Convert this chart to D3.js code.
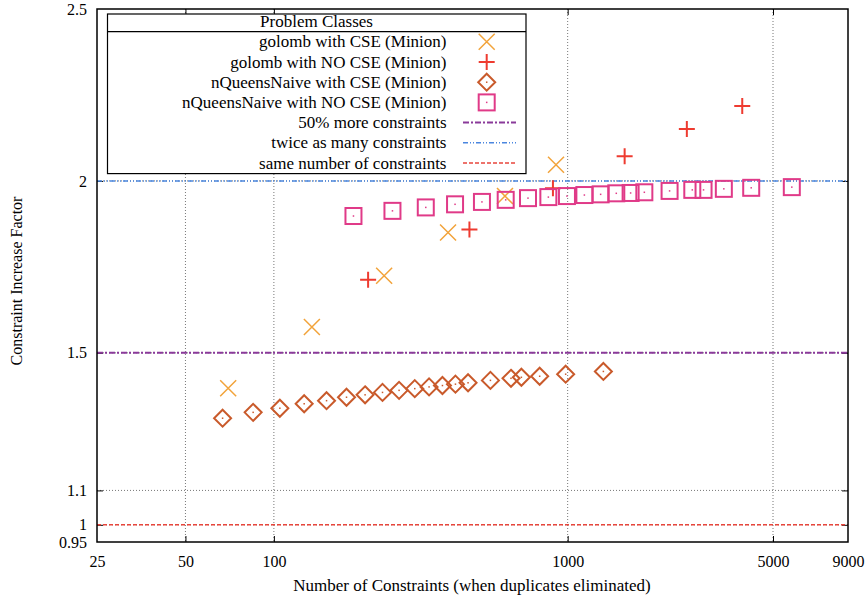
<!DOCTYPE html>
<html><head><meta charset="utf-8">
<script src="https://cdn.jsdelivr.net/npm/d3@7"></script>
<style>body{margin:0;background:#fff}svg{display:block}text{font-family:"Liberation Serif","DejaVu Serif",serif;fill:#000}</style>
</head><body><svg id="c" width="866" height="601"></svg>
<script>
// ---- data ----
const golombCSE_x = [69.9, 134.7, 237.3, 391.6, 611.9, 912.7];
const golombCSE_y = [1.397, 1.575, 1.724, 1.850, 1.956, 2.047];
const golombNoCSE_x = [209.3, 463.1, 891, 1563, 2545, 3929];
const golombNoCSE_y = [1.713, 1.859, 1.979, 2.072, 2.151, 2.218];
const nqCSE_x = [66.9, 85.0, 104.8, 126.8, 151.1, 176.7, 204.4, 234.3, 266.8, 301.7, 337.5, 374.8, 415, 458.1, 545.9, 641.4, 695.8, 803, 984.4, 1323];
const nqCSE_y = [1.310, 1.327, 1.339, 1.352, 1.361, 1.371, 1.378, 1.385, 1.391, 1.396, 1.401, 1.405, 1.409, 1.413, 1.420, 1.426, 1.429, 1.432, 1.438, 1.446];
const nqNoCSE_x = [186.6, 253.3, 328.9, 413.7, 510.8, 615.3, 732.8, 859.6, 994.5, 1140, 1295, 1464, 1638, 1824, 2223, 2656, 2901, 3401, 4215, 5794];
const nqNoCSE_y = [1.898, 1.913, 1.923, 1.932, 1.939, 1.945, 1.950, 1.953, 1.956, 1.959, 1.961, 1.964, 1.965, 1.967, 1.971, 1.974, 1.974, 1.977, 1.980, 1.982];
const refLevels = [1.5, 2, 1];
const xTicks = [25, 50, 100, 1000, 5000, 9000];
const yTicks = [0.95, 1, 1.1, 1.5, 2, 2.5];
const xDomain = [25, 9000];
const yDomain = [0.95, 2.5];
const legendTitle = "Problem Classes";
const seriesNames = ["golomb with CSE (Minion)", "golomb with NO CSE (Minion)", "nQueensNaive with CSE (Minion)", "nQueensNaive with NO CSE (Minion)"];
const lineNames = ["50% more constraints", "twice as many constraints", "same number of constraints"];

// ---- layout ----
const L = 97, R = 848, T = 9, B = 542;
const svg = d3.select("#c");
const x = d3.scaleLog().domain(xDomain).range([L, R]);
const y = d3.scaleLinear().domain(yDomain).range([B, T]);

const colors = {x:"#f2a33a", plus:"#ee3b30", dia:"#c95a2b", sq:"#e03a88"};
const lineStyles = [
  {color:"#8a3a9a", dash:"6,2,2,2", w:2},
  {color:"#4a86df", dash:"5,2,1,2,1,2", w:1.6},
  {color:"#e8463c", dash:"4,2", w:1.5}
];

// grid
const g = svg.append("g");
xTicks.filter(t => t !== 25 && t !== 9000).forEach(t => {
  g.append("line").attr("x1", x(t)).attr("x2", x(t)).attr("y1", T).attr("y2", B)
   .attr("stroke", "#777").attr("stroke-width", 1).attr("stroke-dasharray", "1,2");
});
yTicks.filter(t => t !== 0.95 && t !== 2.5).forEach(t => {
  g.append("line").attr("x1", L).attr("x2", R).attr("y1", y(t)).attr("y2", y(t))
   .attr("stroke", "#777").attr("stroke-width", 1).attr("stroke-dasharray", "1,2");
});

// axes (d3 axes with inward ticks)
const xAxis = d3.axisBottom(x).tickValues(xTicks).tickFormat(d3.format("d")).tickSize(-6).tickPadding(14);
const yAxis = d3.axisLeft(y).tickValues(yTicks).tickFormat(d => String(d)).tickSize(-6).tickPadding(10);
const xa = svg.append("g").attr("transform", `translate(0,${B})`).call(xAxis);
const ya = svg.append("g").attr("transform", `translate(${L},0)`).call(yAxis);
const xt = svg.append("g").attr("transform", `translate(0,${T})`).call(d3.axisTop(x).tickValues(xTicks).tickSize(-6).tickFormat(""));
const yr = svg.append("g").attr("transform", `translate(${R},0)`).call(d3.axisRight(y).tickValues(yTicks).tickSize(-6).tickFormat(""));
[xa, ya, xt, yr].forEach(a => {
  a.select(".domain").remove();
  a.selectAll(".tick line").attr("stroke", "#000").attr("stroke-width", 1);
  a.selectAll("text").attr("font-size", 16).attr("font-family", "Liberation Serif").attr("fill", "#000");
});
xa.selectAll(".tick line").filter(d => d === 25 || d === 9000).remove();
xt.selectAll(".tick line").filter(d => d === 25 || d === 9000).remove();
ya.selectAll(".tick line").filter(d => d === 0.95 || d === 2.5).remove();
yr.selectAll(".tick line").filter(d => d === 0.95 || d === 2.5).remove();

// reference lines
refLevels.forEach((v, i) => {
  const s = lineStyles[i];
  svg.append("line").attr("x1", L).attr("x2", R).attr("y1", y(v)).attr("y2", y(v))
    .attr("stroke", s.color).attr("stroke-width", s.w).attr("stroke-dasharray", s.dash);
});

// markers
function drawMarker(sel, type, cx, cy) {
  if (type === "x") {
    sel.append("path").attr("d", `M${cx-8},${cy-8}L${cx+8},${cy+8}M${cx-8},${cy+8}L${cx+8},${cy-8}`)
      .attr("stroke", colors.x).attr("stroke-width", 1.5).attr("fill", "none");
  } else if (type === "plus") {
    sel.append("path").attr("d", `M${cx-8},${cy}L${cx+8},${cy}M${cx},${cy-8}L${cx},${cy+8}`)
      .attr("stroke", colors.plus).attr("stroke-width", 2).attr("fill", "none");
  } else if (type === "dia") {
    sel.append("path").attr("d", `M${cx},${cy-8.5}L${cx+8.5},${cy}L${cx},${cy+8.5}L${cx-8.5},${cy}Z`)
      .attr("stroke", colors.dia).attr("stroke-width", 2).attr("fill", "none");
    sel.append("rect").attr("x", cx-0.75).attr("y", cy-0.75).attr("width", 1.5).attr("height", 1.5).attr("fill", colors.dia);
  } else {
    sel.append("rect").attr("x", cx-8).attr("y", cy-8).attr("width", 16).attr("height", 16)
      .attr("stroke", colors.sq).attr("stroke-width", 2).attr("fill", "none");
    sel.append("rect").attr("x", cx-0.75).attr("y", cy-0.75).attr("width", 1.5).attr("height", 1.5).attr("fill", colors.sq);
  }
}
const series = [
  {xs: golombCSE_x, ys: golombCSE_y, type: "x"},
  {xs: golombNoCSE_x, ys: golombNoCSE_y, type: "plus"},
  {xs: nqCSE_x, ys: nqCSE_y, type: "dia"},
  {xs: nqNoCSE_x, ys: nqNoCSE_y, type: "sq"}
];
const mg = svg.append("g");
series.forEach(s => {
  s.xs.forEach((v, i) => drawMarker(mg, s.type, x(v), y(s.ys[i])));
});

// plot border
svg.append("rect").attr("x", L).attr("y", T).attr("width", R-L).attr("height", B-T)
  .attr("fill", "none").attr("stroke", "#000").attr("stroke-width", 1.5);

// legend
const lg = svg.append("g");
const LX0 = 107.5, LX1 = 526, LY0 = 14, LYD = 31.7, rowH = 20.2;
lg.append("rect").attr("x", LX0).attr("y", LY0).attr("width", LX1-LX0).attr("height", LYD + rowH*7 - LY0 + 0.5)
  .attr("fill", "#fff").attr("stroke", "#000").attr("stroke-width", 1.2);
lg.append("line").attr("x1", LX0).attr("x2", LX1).attr("y1", LYD).attr("y2", LYD).attr("stroke", "#000").attr("stroke-width", 1.2);
lg.append("text").attr("x", 316.5).attr("y", LYD - 4.5).attr("text-anchor", "middle").attr("font-size", 17).text(legendTitle);
const allNames = seriesNames.concat(lineNames);
allNames.forEach((n, i) => {
  const cy = LYD + rowH*(i+0.5);
  lg.append("text").attr("x", 446.5).attr("y", cy + 5.5).attr("text-anchor", "end").attr("font-size", 17).text(n);
  if (i < 4) drawMarker(lg, series[i].type, 486.7, cy);
  else {
    const s = lineStyles[i-4];
    lg.append("line").attr("x1", 463).attr("x2", 516).attr("y1", cy).attr("y2", cy)
      .attr("stroke", s.color).attr("stroke-width", s.w).attr("stroke-dasharray", s.dash);
  }
});

// axis titles
svg.append("text").attr("x", 472).attr("y", 591).attr("text-anchor", "middle").attr("font-size", 17)
  .text("Number of Constraints (when duplicates eliminated)");
svg.append("text").attr("transform", `translate(22,281) rotate(-90)`).attr("text-anchor", "middle").attr("font-size", 16)
  .text("Constraint Increase Factor");
</script></body></html>
